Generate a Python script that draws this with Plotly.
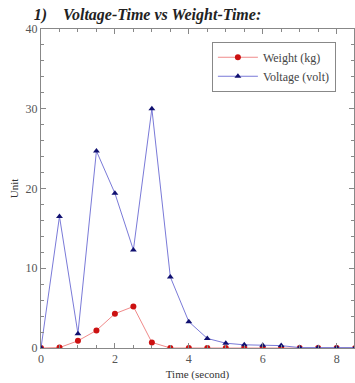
import plotly.graph_objects as go

time = [0, 0.5, 1, 1.5, 2, 2.5, 3, 3.5, 4, 4.5, 5, 5.5, 6, 6.5, 7, 7.5, 8, 8.5]
weight = [0, 0.05, 0.9, 2.2, 4.3, 5.2, 0.7, 0.0, 0.0, 0.0, 0.0, 0.0, 0.0, 0.0, 0.0, 0.0, 0.0, 0.0]
voltage = [0, 16.5, 1.8, 24.7, 19.4, 12.3, 30.0, 8.9, 3.3, 1.2, 0.6, 0.4, 0.35, 0.3, 0.05, 0.05, 0.05, 0.05]

font = "Liberation Serif"
fig = go.Figure()
fig.add_trace(go.Scatter(x=time, y=weight, mode="lines+markers", name="Weight (kg)",
                         line=dict(color="#f08a8a", width=1),
                         marker=dict(symbol="circle", size=6, color="#cc1111")))
fig.add_trace(go.Scatter(x=time, y=voltage, mode="lines+markers", name="Voltage (volt)",
                         line=dict(color="#7a7ad8", width=1),
                         marker=dict(symbol="triangle-up", size=6, color="#101070")))

axis_common = dict(showline=True, linecolor="#888888", linewidth=1, mirror="ticks",
                   ticks="inside", tickcolor="#888888", ticklen=5, showgrid=False, zeroline=False,
                   tickfont=dict(family=font, size=12, color="#555555"))
fig.update_xaxes(range=[0, 8.47], tickvals=[0, 2, 4, 6, 8], title=dict(text="Time (second)", font=dict(family=font, size=11, color="#333333"), standoff=4),
                 minor=dict(dtick=0.5, ticks="inside", ticklen=3, tickcolor="#888888"), **axis_common)
fig.update_yaxes(range=[0, 40], tickvals=[0, 10, 20, 30, 40], title=dict(text="Unit", font=dict(family=font, size=11, color="#333333"), standoff=4),
                 minor=dict(dtick=2, ticks="inside", ticklen=3, tickcolor="#888888"), **axis_common)

fig.update_layout(
    width=355, height=383,
    margin=dict(l=41, r=1, t=29, b=35),
    paper_bgcolor="white", plot_bgcolor="white",
    title=dict(text="<b><i>1)    Voltage-Time vs Weight-Time:</i></b>", x=0.095, xanchor="left", y=0.962, yanchor="middle",
               font=dict(family=font, size=16, color="#222222")),
    legend=dict(x=0.546, y=0.96, xanchor="left", yanchor="top", bordercolor="#888888", borderwidth=1,
                bgcolor="white", font=dict(family=font, size=12, color="#444444"), tracegroupgap=0, itemwidth=40),
    showlegend=True,
)
fig.write_html("out.html")
